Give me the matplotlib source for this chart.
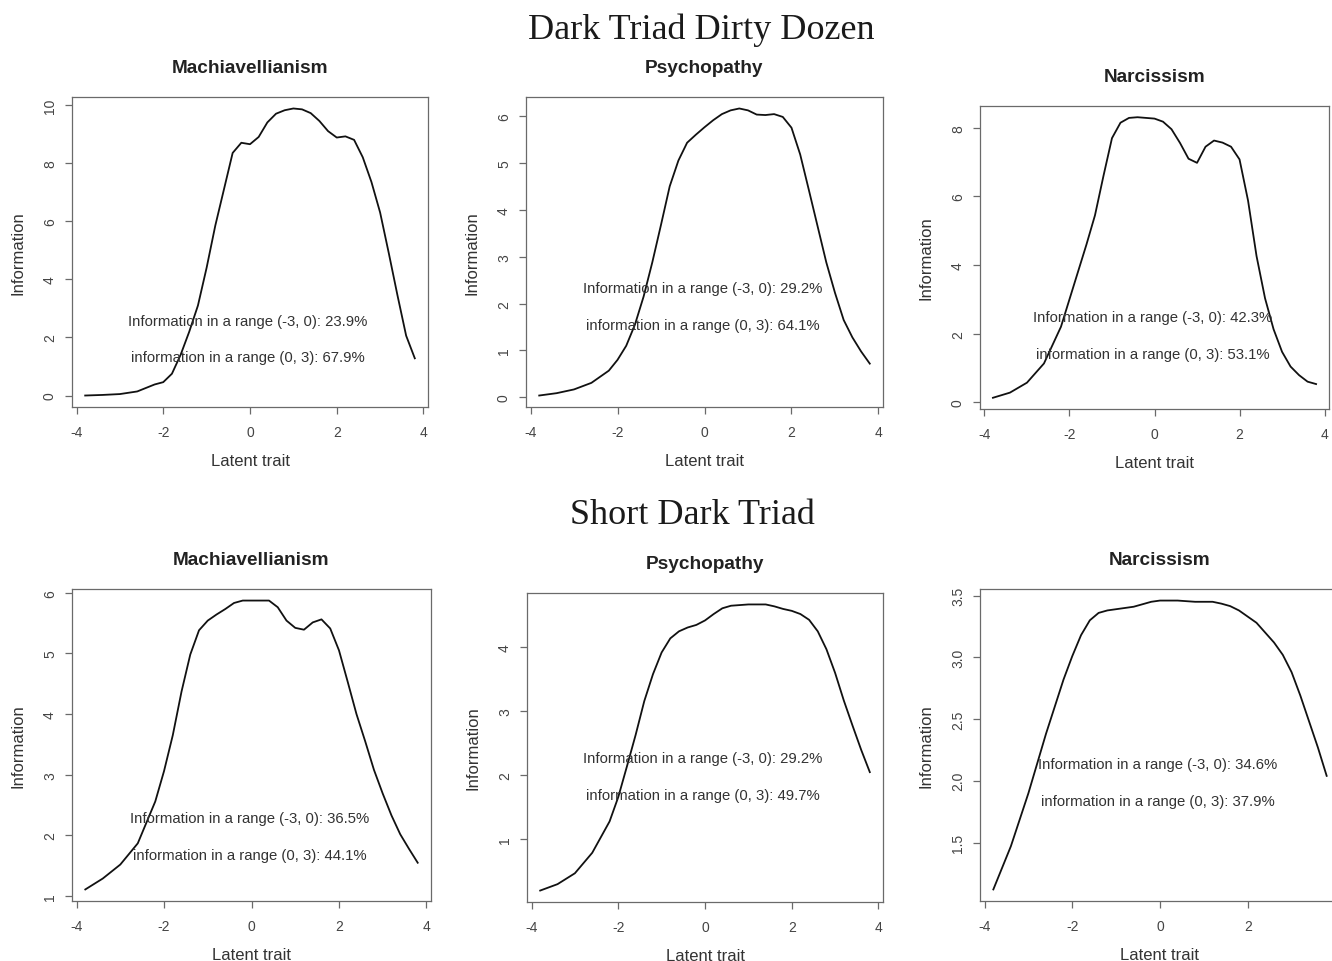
import matplotlib
matplotlib.use('Agg')
import matplotlib.pyplot as plt

# latent trait grid where the information curves were read
theta = [-3.8, -3.4, -3.0, -2.6, -2.2, -2.0, -1.8, -1.6, -1.4, -1.2, -1.0, -0.8, -0.6, -0.4, -0.2, 0.0,
         0.2, 0.4, 0.6, 0.8, 1.0, 1.2, 1.4, 1.6, 1.8, 2.0, 2.2, 2.4, 2.6, 2.8, 3.0, 3.2, 3.4, 3.6, 3.8]

# Dark Triad Dirty Dozen
dd_mach = [0.0, 0.02, 0.05, 0.14, 0.38, 0.46, 0.75, 1.4, 2.2, 3.1, 4.4, 5.85, 7.1, 8.35, 8.7, 8.65,
           8.9, 9.4, 9.7, 9.82, 9.88, 9.85, 9.72, 9.45, 9.1, 8.88, 8.92, 8.8, 8.2, 7.35, 6.3, 4.9, 3.45, 2.06, 1.28]
dd_psy = [0.04, 0.09, 0.17, 0.31, 0.57, 0.8, 1.1, 1.55, 2.15, 2.88, 3.68, 4.5, 5.05, 5.43, 5.6, 5.76,
          5.91, 6.04, 6.12, 6.16, 6.12, 6.03, 6.02, 6.04, 5.98, 5.75, 5.18, 4.42, 3.65, 2.88, 2.23, 1.65, 1.28, 0.98, 0.72]
dd_nar = [0.13, 0.28, 0.57, 1.13, 2.2, 3.0, 3.8, 4.6, 5.45, 6.6, 7.7, 8.15, 8.29, 8.31, 8.29, 8.27,
          8.18, 7.96, 7.56, 7.1, 6.98, 7.45, 7.63, 7.57, 7.45, 7.08, 5.88, 4.26, 3.03, 2.13, 1.47, 1.04, 0.79, 0.6, 0.53]

# Short Dark Triad
sd_mach = [1.11, 1.29, 1.52, 1.87, 2.56, 3.06, 3.65, 4.37, 4.98, 5.38, 5.54, 5.64, 5.73, 5.83, 5.87, 5.87,
           5.87, 5.87, 5.76, 5.54, 5.42, 5.39, 5.51, 5.56, 5.41, 5.05, 4.53, 4.0, 3.55, 3.08, 2.69, 2.33, 2.02, 1.78, 1.55]
sd_psy = [0.19, 0.29, 0.46, 0.78, 1.27, 1.65, 2.13, 2.62, 3.15, 3.57, 3.91, 4.13, 4.24, 4.3, 4.34, 4.41,
          4.51, 4.6, 4.64, 4.65, 4.66, 4.66, 4.66, 4.63, 4.59, 4.56, 4.51, 4.42, 4.24, 3.96, 3.59, 3.16, 2.77, 2.39, 2.04]
sd_nar = [1.12, 1.47, 1.9, 2.38, 2.82, 3.01, 3.18, 3.3, 3.36, 3.38, 3.39, 3.4, 3.41, 3.43, 3.45, 3.46,
          3.46, 3.46, 3.455, 3.45, 3.45, 3.45, 3.435, 3.415, 3.38, 3.33, 3.28, 3.2, 3.12, 3.02, 2.88, 2.69, 2.48, 2.27, 2.04]

titles = ['Machiavellianism', 'Psychopathy', 'Narcissism'] * 2
series = [dd_mach, dd_psy, dd_nar, sd_mach, sd_psy, sd_nar]

x_ticks = [-4, -2, 0, 2, 4]
y_ticks = [[0, 2, 4, 6, 8, 10], [0, 1, 2, 3, 4, 5, 6], [0, 2, 4, 6, 8],
           [1, 2, 3, 4, 5, 6], [1, 2, 3, 4], [1.5, 2.0, 2.5, 3.0, 3.5]]
y_tick_labels = [[str(v) for v in t] for t in y_ticks[:5]] + [['1.5', '2.0', '2.5', '3.0', '3.5']]

# percentages of information in (-3, 0) and (0, 3)
pct_neg = ['23.9%', '29.2%', '42.3%', '36.5%', '29.2%', '34.6%']
pct_pos = ['67.9%', '64.1%', '53.1%', '44.1%', '49.7%', '37.9%']
# y where the two annotation lines sit
text_y1 = [2.55, 2.34, 2.48, 2.28, 2.26, 2.14]
text_y2 = [1.33, 1.55, 1.42, 1.67, 1.68, 1.84]

plt.rcParams['font.family'] = 'Liberation Sans'

W, H = 1332, 962
fig = plt.figure(figsize=(W / 100, H / 100), dpi=100)

# plot boxes in pixels: left, top, right, bottom
boxes = [(72, 98, 428, 408), (526, 98, 883, 408), (980, 107, 1329, 410),
         (72, 590, 431, 902), (527, 594, 883, 903), (980, 590, 1340, 902)]

box_col = '#6a6a6a'
txt_col = '#333333'

for i in range(6):
    l, t, r, b = boxes[i]
    axw, axh = r - l, b - t
    ax = fig.add_axes([l / W, 1 - b / H, axw / W, axh / H])
    y = series[i]
    ax.plot(theta, y, color='#111111', lw=1.3)

    # R style 4% padding around data range
    xr = max(theta) - min(theta)
    yr = max(y) - min(y)
    ax.set_xlim(min(theta) - 0.04 * xr, max(theta) + 0.04 * xr)
    ax.set_ylim(min(y) - 0.04 * yr, max(y) + 0.04 * yr)

    # last panel runs past the page edge, its "4" tick falls outside
    xt = x_ticks if i != 5 else x_ticks[:-1]
    ax.set_xticks(xt)
    ax.set_xticklabels([str(v) for v in xt])
    ax.set_yticks(y_ticks[i])
    ax.set_yticklabels(y_tick_labels[i], rotation=90, va='center')
    ax.tick_params(length=5.3, width=0.9, color=box_col, labelcolor='#444444', labelsize=10)
    ax.tick_params(axis='x', pad=7.5)
    ax.tick_params(axis='y', pad=5.5)
    for s in ax.spines.values():
        s.set_color(box_col)
        s.set_linewidth(0.9)

    ax.set_xlabel('Latent trait', fontsize=12, color=txt_col, va='center')
    ax.xaxis.set_label_coords(0.5, -54 / axh)
    ax.set_ylabel('Information', fontsize=12, color=txt_col, va='center')
    ax.yaxis.set_label_coords(-54 / axw, 0.5)

    ax.text(0.5, 1 + 29 / axh, titles[i], transform=ax.transAxes, ha='center', va='center',
            fontsize=13.7, fontweight='bold', color='#222222')

    ax.text(-0.05, text_y1[i], 'Information in a range (-3, 0): ' + pct_neg[i],
            ha='center', va='center', fontsize=10.7, color=txt_col)
    ax.text(-0.05, text_y2[i], 'information in a range (0, 3): ' + pct_pos[i],
            ha='center', va='center', fontsize=10.7, color=txt_col)

fig.text(701 / W, 1 - 30 / H, 'Dark Triad Dirty Dozen', family='Liberation Serif',
         fontsize=26, ha='center', va='center', color='#1a1a1a')
fig.text(692 / W, 1 - 516 / H, 'Short Dark Triad', family='Liberation Serif',
         fontsize=26, ha='center', va='center', color='#1a1a1a')

fig.savefig('out.png', dpi=100)
